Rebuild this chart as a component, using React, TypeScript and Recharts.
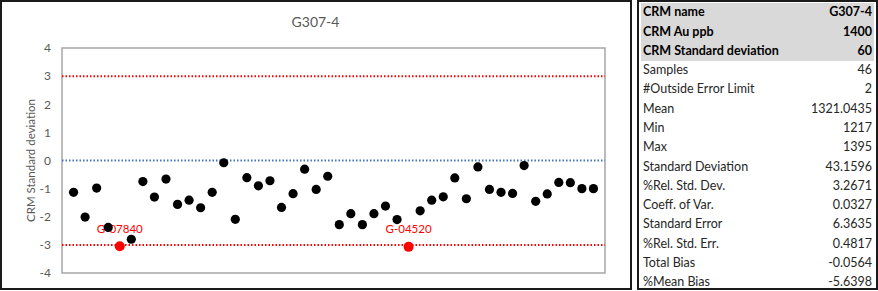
import React from 'react';
import { ScatterChart, Scatter, XAxis, YAxis, ReferenceLine, ReferenceArea } from 'recharts';

const chartTitle = 'G307-4';
const yAxisTitle = 'CRM Standard deviation';
const yTicks = [-4, -3, -2, -1, 0, 1, 2, 3, 4];
const zScores = [
  -1.13, -2.01, -0.98, -2.38, -3.05, -2.8, -0.75, -1.3, -0.66, -1.56,
  -1.41, -1.68, -1.13, -0.08, -2.09, -0.61, -0.9, -0.72, -1.67, -1.18,
  -0.31, -1.03, -0.56, -2.28, -1.89, -2.28, -1.89, -1.62, -2.1, -3.07,
  -1.79, -1.41, -1.29, -0.62, -1.36, -0.23, -1.03, -1.13, -1.17, -0.18,
  -1.45, -1.19, -0.78, -0.79, -1.0, -1.0,
];
const outlierSamples = [5, 30];
const outlierNames = ['G-07840', 'G-04520'];
const upperLimit = 3;
const lowerLimit = -3;
const centerLine = 0;

const tableLabels = [
  'CRM name', 'CRM Au ppb', 'CRM Standard deviation', 'Samples', '#Outside Error Limit',
  'Mean', 'Min', 'Max', 'Standard Deviation', '%Rel. Std. Dev.', 'Coeff. of Var.',
  'Standard Error', '%Rel. Std. Err.', 'Total Bias', '%Mean Bias',
];
const tableValues = [
  'G307-4', '1400', '60', '46', '2', '1321.0435', '1217', '1395', '43.1596',
  '3.2671', '0.0327', '6.3635', '0.4817', '-0.0564', '-5.6398',
];
const headerRows = 3;

const allPoints = zScores.map((z, i) => ({ x: i + 1, y: z }));
const normalData = allPoints.filter((p) => !outlierSamples.includes(p.x));
const outlierData = outlierSamples.map((s, i) => ({ x: s, y: zScores[s - 1], name: outlierNames[i] }));

const FONT = 'Lato, "Open Sans", sans-serif';

const BlackDot = (props: any) => <circle cx={props.cx} cy={props.cy} r={4.6} fill="#000" />;
const RedDot = (props: any) => (
  <g>
    <circle cx={props.cx} cy={props.cy} r={5} fill="#ff0000" />
    <text
      x={props.cx}
      y={props.cy - 18}
      textAnchor="middle"
      dominantBaseline="central"
      fill="#ff0000"
      fontSize={11.5}
      fontFamily={FONT}
    >
      {props.payload.name}
    </text>
  </g>
);

const YLabel = (props: any) => {
  const vb = props.viewBox || { x: 0, y: 48, width: 62, height: 225 };
  const cx = vb.x + 30;
  const cy = vb.y + vb.height / 2;
  return (
    <text
      x={cx}
      y={cy}
      transform={`rotate(-90 ${cx} ${cy})`}
      textAnchor="middle"
      dominantBaseline="central"
      fill="#595959"
      fontSize={11.5}
      fontFamily={FONT}
    >
      {yAxisTitle}
    </text>
  );
};

const ROW_H = 19.28;

export default function App() {
  return (
    <div style={{ position: 'absolute', left: 0, top: 0, width: 878, height: 291, background: '#fff', fontFamily: FONT }}>
      <div style={{ position: 'absolute', left: 0, top: 0, width: 632, height: 291 }}>
        <ScatterChart width={632} height={291} margin={{ top: 48, right: 27, bottom: 18, left: 0 }}>
          <XAxis type="number" dataKey="x" domain={[0, 47]} hide allowDataOverflow />
          <YAxis
            type="number"
            dataKey="y"
            domain={[-4, 4]}
            ticks={yTicks}
            interval={0}
            width={62}
            tickLine={false}
            axisLine={false}
            tickMargin={5}
            tick={{ fill: '#595959', fontSize: 12, fontFamily: FONT }}
            label={<YLabel />}
            allowDataOverflow
          />
          <ReferenceArea x1={0} x2={47} y1={-4} y2={4} fill="none" stroke="#a6a6a6" strokeWidth={1.5} fillOpacity={0} />
          <ReferenceLine y={upperLimit} stroke="#ff0000" strokeWidth={2} strokeDasharray="1.5 2" />
          <ReferenceLine y={lowerLimit} stroke="#ff0000" strokeWidth={2} strokeDasharray="1.5 2" />
          <ReferenceLine y={centerLine} stroke="#4472c4" strokeWidth={2} strokeDasharray="1.5 2" />
          <Scatter data={outlierData} shape={RedDot} isAnimationActive={false} />
          <Scatter data={normalData} shape={BlackDot} isAnimationActive={false} />
        </ScatterChart>
        <div
          style={{
            position: 'absolute', left: 0, width: 631, top: 13, textAlign: 'center',
            fontSize: 14, color: '#595959', lineHeight: '18px',
          }}
        >
          {chartTitle}
        </div>
        <div
          style={{
            position: 'absolute', left: 0, top: 0, width: 632, height: 290,
            boxSizing: 'border-box', border: '2px solid #1a1a1a', pointerEvents: 'none',
          }}
        />
      </div>
      <div
        style={{
          position: 'absolute', left: 637, top: 0, width: 241, height: 290,
          boxSizing: 'border-box', border: '2px solid #1a1a1a',
        }}
      >
        <div style={{ position: 'absolute', left: 2, top: 1.4, width: 233, height: ROW_H * headerRows, background: '#d9d9d9' }} />
        {tableLabels.map((lab, i) => (
          <div
            key={lab}
            style={{
              position: 'absolute', left: 4, width: 229, top: 0.2 + i * ROW_H, height: ROW_H,
              display: 'flex', justifyContent: 'space-between', alignItems: 'center',
              fontSize: 12.5, lineHeight: '15px', fontWeight: i < headerRows ? 700 : 400,
              color: i < headerRows ? '#000' : '#262626',
            }}
          >
            <span>{lab}</span>
            <span>{tableValues[i]}</span>
          </div>
        ))}
      </div>
    </div>
  );
}
